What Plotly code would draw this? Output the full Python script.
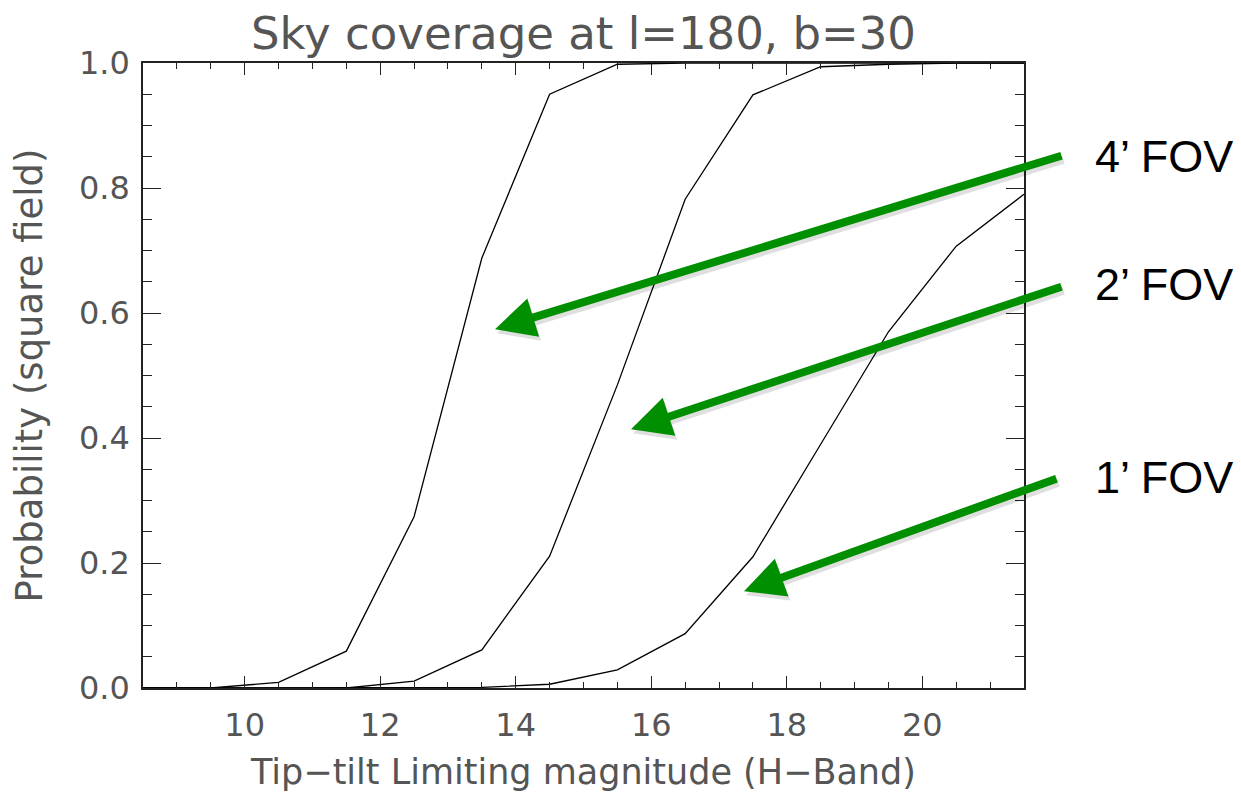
import plotly.graph_objects as go

# Limiting magnitude grid (H band)
mags = [8.5, 9.5, 10.5, 11.5, 12.5, 13.5, 14.5, 15.5, 16.5, 17.5, 18.5, 19.5, 20.5, 21.5]
# Probability for each field of view
fov4 = [0.0, 0.0, 0.009, 0.059, 0.274, 0.688, 0.950, 0.998, 1.0, 1.0, 1.0, 1.0, 1.0, 1.0]
fov2 = [0.0, 0.0, 0.0, 0.0, 0.011, 0.061, 0.211, 0.485, 0.782, 0.949, 0.994, 0.998, 1.0, 1.0]
fov1 = [0.0, 0.0, 0.0, 0.0, 0.0, 0.001, 0.006, 0.029, 0.087, 0.210, 0.390, 0.570, 0.707, 0.790]

labels = ["4\u2019 FOV", "2\u2019 FOV", "1\u2019 FOV"]

TXT = "#555555"
FONT = "DejaVu Sans"

# page has an 8px body margin: figure is 1233x786 placed at (8, 8)
W, H = 1233, 786
L, R, T, B = 135, 217, 55, 106

fig = go.Figure()
for ys in (fov4, fov2, fov1):
    fig.add_trace(go.Scatter(x=mags, y=ys, mode="lines",
                             line=dict(color="black", width=1.3),
                             showlegend=False, hoverinfo="skip", cliponaxis=True))

fig.update_layout(
    width=W, height=H,
    margin=dict(l=L, r=R, t=T, b=B, autoexpand=False),
    paper_bgcolor="white", plot_bgcolor="white",
    title=dict(text="Sky coverage at l=180, b=30", x=(L + (W - R)) / 2 / W, xanchor="center",
               y=1 - 25 / H, yanchor="middle", yref="container",
               font=dict(family=FONT, size=45, color=TXT)),
    showlegend=False,
)

fig.update_xaxes(
    range=[8.5, 21.5], tick0=0, dtick=2, ticks="inside", ticklen=12, tickwidth=1.2,
    tickcolor="#222", showline=True, linecolor="#222", linewidth=1.5, mirror="ticks",
    showgrid=False, zeroline=False, automargin=False,
    tickfont=dict(family=FONT, size=32, color=TXT), ticklabelstandoff=8,
    minor=dict(ticks="inside", ticklen=6, dtick=0.5, tick0=0, tickcolor="#222", tickwidth=1.2, showgrid=False),
    title=dict(text="Tip\u2212tilt Limiting magnitude (H\u2212Band)", standoff=16,
               font=dict(family=FONT, size=35, color=TXT)),
)
fig.update_yaxes(
    range=[0, 1], tick0=0, dtick=0.2, tickformat=".1f", ticks="inside", ticklen=18, tickwidth=1.2,
    tickcolor="#222", showline=True, linecolor="#222", linewidth=1.5, mirror="ticks",
    showgrid=False, zeroline=False, automargin=False,
    tickfont=dict(family=FONT, size=32, color=TXT), ticklabelstandoff=5,
    minor=dict(ticks="inside", ticklen=9, dtick=0.05, tick0=0, tickcolor="#222", tickwidth=1.2, showgrid=False),
    title=dict(text="Probability (square field)", standoff=26,
               font=dict(family=FONT, size=37, color=TXT)),
)

# Arrows: tip in data coords, tail offset in pixels
arrows = [
    dict(x=13.694, y=0.574, ax=568, ay=-174),
    dict(x=15.701, y=0.414, ax=432, ay=-143),
    dict(x=17.368, y=0.155, ax=314, ay=-113),
]
GREEN = "#008f00"
for a in arrows:
    # soft shadow
    fig.add_annotation(x=a["x"], y=a["y"], ax=a["ax"], ay=a["ay"], xref="x", yref="y",
                       axref="pixel", ayref="pixel", text="", showarrow=True,
                       arrowhead=2, arrowsize=1, arrowwidth=8, standoff=0,
                       arrowcolor="rgba(0,0,0,0.12)", xshift=2, yshift=-4)
for a in arrows:
    fig.add_annotation(x=a["x"], y=a["y"], ax=a["ax"], ay=a["ay"], xref="x", yref="y",
                       axref="pixel", ayref="pixel", text="", showarrow=True,
                       arrowhead=2, arrowsize=1, arrowwidth=8, standoff=0,
                       arrowcolor=GREEN)

plot_w = W - L - R
label_y = [0.85, 0.645, 0.336]
for txt, yy in zip(labels, label_y):
    fig.add_annotation(x=(1093 - 8 - L) / plot_w, y=yy, xref="paper", yref="paper",
                       text=txt, showarrow=False, xanchor="left", yanchor="middle",
                       font=dict(family="Liberation Sans", size=45, color="black"))

fig.write_html("out.html")
